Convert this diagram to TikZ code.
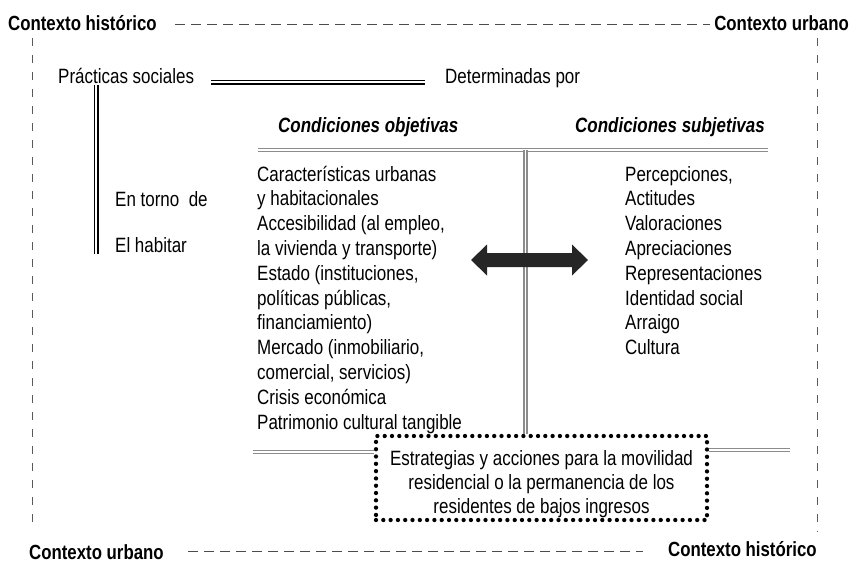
\documentclass[tikz,border=0pt]{standalone}
\usepackage{fontspec}
\setmainfont{Liberation Sans}[FakeStretch=0.82]
\begin{document}
\begin{tikzpicture}[x=1pt,y=-1pt,
  txt/.style={inner sep=0pt,anchor=base west,font=\fontsize{20.7}{24.8}\selectfont},
  ctx/.style={inner sep=0pt,font=\fontsize{20.5}{24}\selectfont\bfseries},
  cond/.style={inner sep=0pt,anchor=base west,font=\fontsize{20.7}{24.8}\selectfont\bfseries\itshape},
  ctxline/.style={draw=black!70,line width=1pt,dash pattern=on 10pt off 6pt},
  ctxvline/.style={draw=black!65,line width=1pt,dash pattern=on 8pt off 9pt},
  blackdouble/.style={draw=black,line width=1.5pt,double=white,double distance=2pt},
  graydouble/.style={draw=black!45,line width=1.3pt,double=white,double distance=1.6pt},
  dotbox/.style={draw=black,line width=4.3pt,dash pattern=on 0pt off 7.3pt,line cap=round},
]
\useasboundingbox (0,0) rectangle (853,563);
% context frame
\node[ctx,anchor=base west] (ch1) at (8,30) {Contexto histórico};
\node[ctx,anchor=base east] (cu1) at (849,30) {Contexto urbano};
\node[ctx,anchor=base west] (cu2) at (29,559) {Contexto urbano};
\node[ctx,anchor=base west] (ch2) at (668,556) {Contexto histórico};
\coordinate (tl) at (175,24); \coordinate (tr) at (710,24);
\coordinate (bl) at (188,551); \coordinate (br) at (643,551);
\coordinate (lv1) at (32,38); \coordinate (lv2) at (32,528);
\coordinate (rv1) at (817,38); \coordinate (rv2) at (817,532);
\draw[ctxline] (tl) -- (tr);
\draw[ctxline] (bl) -- (br);
\draw[ctxvline] (lv1) -- (lv2);
\draw[ctxvline] (rv1) -- (rv2);
% top texts
\node[txt] (ps) at (58,83) {Prácticas sociales};
\node[txt] (dp) at (445,83) {Determinadas por};
\coordinate (ps1) at (211,82); \coordinate (ps2) at (425,82);
\draw[blackdouble] (ps1) -- (ps2);
\coordinate (v1) at (96,85); \coordinate (v2) at (96,254);
\draw[blackdouble] (v1) -- (v2);
\node[txt] (et) at (115,206) {En torno\ \ de};
\node[txt] (eh) at (115,252) {El habitar};
% conditions
\node[cond] (co) at (278,132) {Condiciones objetivas};
\node[cond] (cs) at (575,132) {Condiciones subjetivas};
\coordinate (h1) at (258,150); \coordinate (h2) at (768,150);
\coordinate (vt) at (525.5,150);
\draw[graydouble] (h1) -- (h2);
% left list
\foreach \t [count=\i] in {{Características urbanas},{y habitacionales},{Accesibilidad (al empleo,},{la vivienda y transporte)},{Estado (instituciones,},{políticas públicas,},{financiamiento)},{Mercado (inmobiliario,},{comercial, servicios)},{Crisis económica},{Patrimonio cultural tangible}}
  \node[txt] (l\i) at (257,{181+24.8*(\i-1)}) {\t};
% right list
\foreach \t [count=\i] in {{Percepciones,},Actitudes,Valoraciones,Apreciaciones,Representaciones,{Identidad social},Arraigo,Cultura}
  \node[txt] (r\i) at (625,{181+24.8*(\i-1)}) {\t};
% box
\node[dotbox,minimum width=331pt,minimum height=84pt,inner sep=0pt] (box) at (541.5,478) {};
\node[inner sep=0pt,align=center,font=\fontsize{20.7}{24.2}\selectfont] (boxt) at (541.5,484) {Estrategias y acciones para la movilidad\\residencial o la permanencia de los\\residentes de bajos ingresos};
\draw[graydouble] (vt) -- (vt |- box.north);
\coordinate (lg) at (253,452); \coordinate (rg) at (790,450);
\draw[graydouble] (lg) -- (lg -| box.west);
\draw[graydouble] (rg -| box.east) -- (rg);
% double arrow
\fill[black!85] (471,260) -- (487,244.5) -- (487,253) -- (572,253) -- (572,244.5) -- (588,260)
  -- (572,275.5) -- (572,267) -- (487,267) -- (487,275.5) -- cycle;
\end{tikzpicture}
\end{document}
